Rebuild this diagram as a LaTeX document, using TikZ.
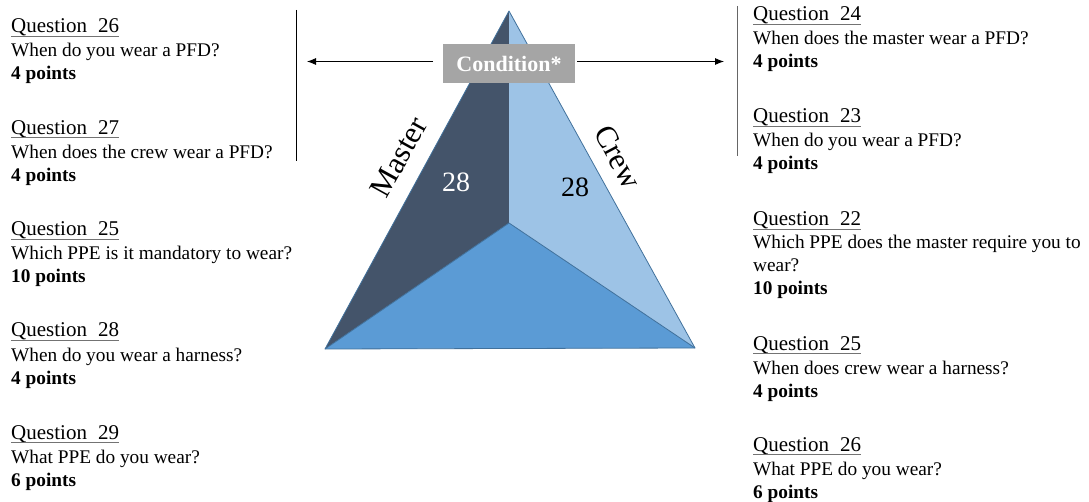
\documentclass[tikz,border=0pt]{standalone}
\usepackage{fontspec}
\setmainfont{Liberation Serif}
\usetikzlibrary{arrows.meta}

\definecolor{faceDark}{HTML}{44546A}
\definecolor{faceLight}{HTML}{9DC3E6}
\definecolor{faceMid}{HTML}{5B9BD5}
\definecolor{edgeBlue}{HTML}{41719C}
\definecolor{boxGray}{HTML}{A5A5A5}

\tikzset{
  qtitle/.style={anchor=base west, inner sep=0pt, font=\fontsize{21}{25}\selectfont},
  qbody/.style={anchor=base west, inner sep=0pt, font=\fontsize{19.3}{23}\selectfont},
  qpts/.style={anchor=base west, inner sep=0pt, font=\fontsize{19.3}{23}\selectfont\bfseries},
  uline/.style={draw=black!55, line width=0.9pt},
  sidelabel/.style={inner sep=0pt, font=\fontsize{31}{31}\selectfont},
  count/.style={inner sep=0pt, font=\fontsize{28}{28}\selectfont},
  condbox/.style={fill=boxGray, minimum width=132pt, minimum height=39pt, inner sep=0pt,
    text=white, font=\fontsize{22}{26}\selectfont\bfseries},
  arr/.style={line width=0.8pt, -{Latex[length=9pt,width=7pt]}},
  divider/.style={line width=0.8pt},
  edge/.style={draw=edgeBlue, line width=0.8pt, line join=round},
}

% question block: name, x, baseline y, number, question text, points
\newcommand\qblock[6]{%
  \node[qtitle] (#1t) at (#2,#3) {Question\hspace{0.53em}#4};
  \draw[uline] ([yshift=-3pt]#1t.base west) -- ([yshift=-3pt]#1t.base east);
  \node[qbody] (#1b) at (#2,#3+24) {#5};
  \node[qpts] (#1p) at (#2,#3+47) {#6 points};
}

\begin{document}
\begin{tikzpicture}[x=1pt,y=-1pt]
\useasboundingbox (0,0) rectangle (1089,502);

% pyramid corners
\coordinate (apex) at (509,11);
\coordinate (bl) at (325,349);
\coordinate (br) at (695,348);
\coordinate (mid) at (509,223);

% faces
\fill[faceDark] (apex) -- (mid) -- (bl) -- cycle;
\fill[faceLight] (apex) -- (br) -- (mid) -- cycle;
\fill[faceMid] (bl) -- (mid) -- (br) -- cycle;
\draw[edge] (bl) -- (apex) -- (br) -- cycle;
\draw[edge] (bl) -- (mid) -- (br);

% side labels and counts
\node[sidelabel, rotate=61] (master) at (399,157) {Master};
\node[sidelabel, rotate=-62] (crew) at (618,157) {Crew};
\node[count, text=white] (mcount) at (456,182) {28};
\node[count] (ccount) at (575,187) {28};

% condition box and arrows
\node[condbox] (cond) at (509,63.6) {Condition*};
\coordinate (lstart) at (433,61.5);
\coordinate (ltip) at (307,61.5);
\coordinate (rstart) at (577,61.5);
\coordinate (rtip) at (724,61.5);
\draw[arr] (lstart) -- (ltip);
\draw[arr] (rstart) -- (rtip);

% divider lines
\coordinate (ltop) at (296,10);
\coordinate (lbot) at (296,161);
\coordinate (rtop) at (737,6);
\coordinate (rbot) at (737,156);
\draw[divider, black] (ltop) -- (lbot);
\draw[divider, black!60] (rtop) -- (rbot);

% left column
\qblock{la}{11}{33}{26}{When do you wear a PFD?}{4}
\qblock{lb}{11}{134.5}{27}{When does the crew wear a PFD?}{4}
\qblock{lc}{11}{236}{25}{Which PPE is it mandatory to wear?}{10}
\qblock{ld}{11}{337}{28}{When do you wear a harness?}{4}
\qblock{le}{11}{439}{29}{What PPE do you wear?}{6}

% right column
\qblock{ra}{753}{21}{24}{When does the master wear a PFD?}{4}
\qblock{rb}{753}{123}{23}{When do you wear a PFD?}{4}
\node[qtitle] (rct) at (753,226) {Question\hspace{0.53em}22};
\draw[uline] ([yshift=-3pt]rct.base west) -- ([yshift=-3pt]rct.base east);
\node[qbody] (rcb) at (753,249) {Which PPE does the master require you to};
\node[qbody] (rcc) at (753,272) {wear?};
\node[qpts] (rcp) at (753,295) {10 points};
\qblock{rd}{753}{350}{25}{When does crew wear a harness?}{4}
\qblock{re}{753}{451}{26}{What PPE do you wear?}{6}
\end{tikzpicture}
\end{document}
